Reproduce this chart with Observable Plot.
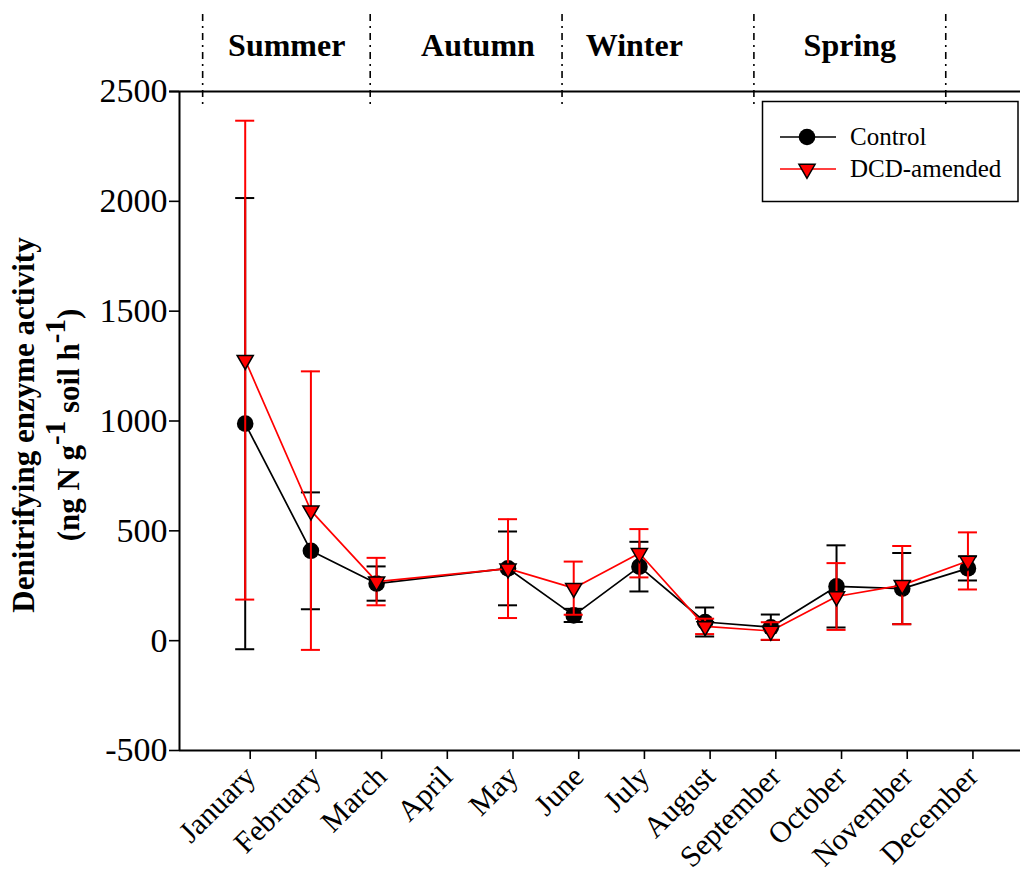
<!DOCTYPE html>
<html>
<head>
<meta charset="utf-8">
<script src="https://cdn.jsdelivr.net/npm/d3@7"></script>
<script src="https://cdn.jsdelivr.net/npm/@observablehq/plot@0.6"></script>
<style>
  body { margin: 0; background: #fff; }
  #chart { width: 1022px; height: 878px; }
</style>
</head>
<body>
<div id="chart"></div>
<script>
// Sampling months (April was not sampled)
const months = ["January", "February", "March", "April", "May", "June",
                "July", "August", "September", "October", "November", "December"];

// Mean denitrifying enzyme activity and standard error (ng N g-1 soil h-1)
const controlMean = [988, 409, 260, null, 329, 115, 337, 85, 61, 247, 237, 329];
const controlSE   = [1027, 266, 78, null, 168, 30, 113, 66, 58, 187, 162, 55];
const dcdMean     = [1277, 592, 269, null, 328, 239, 398, 65, 44, 201, 253, 363];
const dcdSE       = [1090, 634, 108, null, 225, 121, 110, 35, 40, 152, 178, 130];

const yTicks = [-500, 0, 500, 1000, 1500, 2000, 2500];

// Season header: divider positions and label centres on the month axis
const seasonBounds = [0.36, 2.91, 5.83, 8.75, 11.67];
const seasonNames  = ["Summer", "Autumn", "Winter", "Spring"];
const seasonCenters = [1.64, 4.55, 6.93, 10.21];

const serif = "'Liberation Serif', 'Times New Roman', Times, serif";

const toRows = (mean, se, series) =>
  months.map((m, i) => ({month: i + 1, name: m, value: mean[i], se: se[i], series}))
        .filter(d => d.value != null);

const control = toRows(controlMean, controlSE, "Control");
const dcd = toRows(dcdMean, dcdSE, "DCD-amended");

const capHalf = 0.145; // half width of the error-bar caps, in month units

const errorBars = (data, color) => [
  Plot.ruleX(data, {x: "month", y1: d => d.value - d.se, y2: d => d.value + d.se,
                    stroke: color, strokeWidth: 2}),
  Plot.ruleY(data, {x1: d => d.month - capHalf, x2: d => d.month + capHalf,
                    y: d => d.value - d.se, stroke: color, strokeWidth: 2}),
  Plot.ruleY(data, {x1: d => d.month - capHalf, x2: d => d.month + capHalf,
                    y: d => d.value + d.se, stroke: color, strokeWidth: 2})
];

const plot = Plot.plot({
  width: 1022,
  height: 878,
  marginTop: 91,
  marginBottom: 128,
  marginLeft: 179,
  marginRight: 2,
  style: {fontFamily: serif, fontSize: "34px", color: "#000", background: "#fff", overflow: "visible"},
  x: {type: "linear", domain: [0, 12.8]},
  y: {domain: [-500, 2500]},
  marks: [
    Plot.axisY({ticks: yTicks, tickFormat: d => String(d), tickSize: 10, tickPadding: 2,
                label: null, fontSize: 34, strokeWidth: 1.6}),
    Plot.axisX({ticks: months.map((_, i) => i + 1), tickFormat: d => months[d - 1],
                tickRotate: -45, tickSize: 9, tickPadding: 12, dx: 5, label: null,
                fontSize: 30, strokeWidth: 1.6}),
    Plot.ruleX([0], {stroke: "#000", strokeWidth: 2}),
    Plot.ruleY([-500], {stroke: "#000", strokeWidth: 2}),
    Plot.ruleY([2500], {stroke: "#000", strokeWidth: 2, x1: -0.15, x2: 12.8}),

    ...errorBars(control, "#000"),
    Plot.line(control, {x: "month", y: "value", stroke: "#000", strokeWidth: 1.7}),
    Plot.dot(control, {x: "month", y: "value", r: 8.3, fill: "#000", stroke: null}),

    ...errorBars(dcd, "#ff0000"),
    Plot.line(dcd, {x: "month", y: "value", stroke: "#ff0000", strokeWidth: 1.7}),
    Plot.dot(dcd, {x: "month", y: "value", symbol: "triangle", rotate: 180, r: 6,
                   fill: "#ff0000", stroke: "#000", strokeWidth: 1.5})
  ]
});

document.getElementById("chart").appendChild(plot);

const svg = d3.select(plot);
const xs = plot.scale("x");

// Legend
const legend = svg.append("g").attr("font-family", serif).attr("font-size", 25)
  .attr("text-anchor", "start");
legend.append("rect").attr("x", 762.5).attr("y", 101.5).attr("width", 255.5).attr("height", 100)
  .attr("fill", "#fff").attr("stroke", "#000").attr("stroke-width", 1.5);
const legendItems = [
  {label: "Control", color: "#000", y: 137, marker: "circle"},
  {label: "DCD-amended", color: "#ff0000", y: 169, marker: "triangle"}
];
legendItems.forEach(it => {
  legend.append("line").attr("x1", 780).attr("x2", 836).attr("y1", it.y).attr("y2", it.y)
    .attr("stroke", it.color).attr("stroke-width", 1.7);
  if (it.marker === "circle") {
    legend.append("circle").attr("cx", 807).attr("cy", it.y).attr("r", 8.3).attr("fill", "#000");
  } else {
    legend.append("path")
      .attr("d", d3.symbol(d3.symbolTriangle, Math.PI * 36)())
      .attr("transform", `translate(807,${it.y}) rotate(180)`)
      .attr("fill", "#ff0000").attr("stroke", "#000").attr("stroke-width", 1.5);
  }
  legend.append("text").attr("x", 850).attr("y", it.y + 8).text(it.label);
});

// Season header
seasonBounds.forEach(b => {
  svg.append("line").attr("x1", xs.apply(b)).attr("x2", xs.apply(b))
    .attr("y1", 14).attr("y2", 109)
    .attr("stroke", "#000").attr("stroke-width", 1.6)
    .attr("stroke-dasharray", "7,5,2,5");
});
seasonNames.forEach((s, i) => {
  svg.append("text").attr("x", xs.apply(seasonCenters[i])).attr("y", 56)
    .attr("text-anchor", "middle").attr("font-family", serif)
    .attr("font-weight", "bold").attr("font-size", 32).text(s);
});

// Y axis title, two rotated lines with superscripts
svg.append("text").attr("transform", "translate(34,425) rotate(-90)")
  .attr("text-anchor", "middle").attr("font-family", serif).attr("font-weight", "bold")
  .attr("font-size", 31).text("Denitrifying enzyme activity");
const t2 = svg.append("text").attr("transform", "translate(79,425) rotate(-90)")
  .attr("text-anchor", "middle").attr("font-family", serif).attr("font-weight", "bold")
  .attr("font-size", 31);
t2.append("tspan").text("(ng N g");
t2.append("tspan").attr("dy", -14).attr("font-size", 29).text("-1");
t2.append("tspan").attr("dy", 14).text(" soil h");
t2.append("tspan").attr("dy", -14).attr("font-size", 29).text("-1");
t2.append("tspan").attr("dy", 14).text(")");
</script>
</body>
</html>
